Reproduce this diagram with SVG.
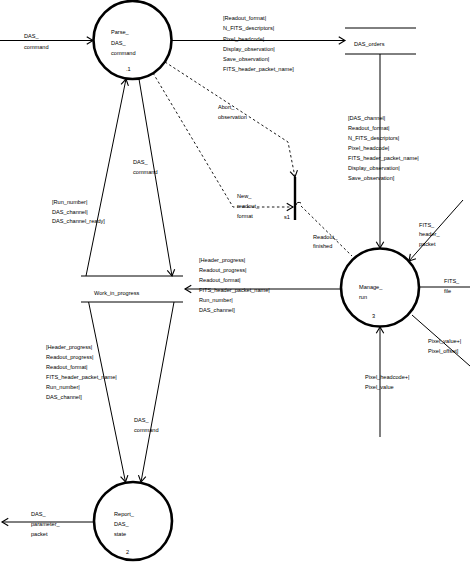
<svg xmlns="http://www.w3.org/2000/svg" width="470" height="562" viewBox="0 0 470 562">
<style>
text{font-family:"Liberation Sans",Arial,sans-serif;font-size:5.6px;fill:#000}
.proc{fill:#fff;stroke:#000;stroke-width:2.6}
.flow{fill:none;stroke:#000;stroke-width:1}
.dash{fill:none;stroke:#000;stroke-width:0.9;stroke-dasharray:2.5,2.5}
.store{stroke:#000;stroke-width:1}
</style>
<defs>
<marker id="ah" markerUnits="userSpaceOnUse" markerWidth="10" markerHeight="10" viewBox="-6 -4 7 8" refX="0" refY="0" orient="auto">
<path d="M-5,-3 L0,0 L-5,3" fill="none" stroke="#000" stroke-width="0.9"/>
</marker>
</defs>
<rect width="470" height="562" fill="#fff"/>
<g id="connectors">
<line class="flow" x1="0" y1="40.5" x2="93" y2="40.5" marker-end="url(#ah)"/>
<line class="flow" x1="172" y1="40.5" x2="345" y2="40.5" marker-end="url(#ah)"/>
<line class="flow" x1="380" y1="54" x2="380" y2="248" marker-end="url(#ah)"/>
<line class="flow" x1="86" y1="276" x2="126" y2="79" marker-end="url(#ah)"/>
<line class="flow" x1="139" y1="79" x2="172" y2="276" marker-end="url(#ah)"/>
<line class="flow" x1="341" y1="289" x2="185" y2="289" marker-end="url(#ah)"/>
<line class="flow" x1="88.6" y1="302" x2="125.5" y2="482" marker-end="url(#ah)"/>
<line class="flow" x1="174" y1="302" x2="141" y2="482" marker-end="url(#ah)"/>
<line class="flow" x1="94" y1="522" x2="2" y2="522" marker-end="url(#ah)"/>
<line class="flow" x1="463" y1="200" x2="409" y2="261" marker-end="url(#ah)"/>
<line class="flow" x1="419" y1="287" x2="470" y2="287"/>
<line class="flow" x1="412" y1="315" x2="470" y2="366"/>
<line class="flow" x1="380" y1="437" x2="380" y2="327" marker-end="url(#ah)"/>
<polyline class="dash" points="165,62 288,142 295,177" marker-end="url(#ah)"/>
<polyline class="dash" points="153,73 233,207 293,207" marker-end="url(#ah)"/>
<path class="flow" d="M296,205 Q297,201 301,203"/>
<line class="dash" x1="301" y1="206" x2="352" y2="256"/>
</g>
<g id="parse">
<circle class="proc" cx="132.5" cy="40" r="39"/>
<text x="111" y="34">Parse_</text>
<text x="111" y="45">DAS_</text>
<text x="111" y="55">command</text>
<text x="126" y="71">.1</text>
</g>
<g id="report">
<circle class="proc" cx="133" cy="521" r="39"/>
<text x="114" y="515.5">Report_</text>
<text x="114" y="526">DAS_</text>
<text x="114" y="536">state</text>
<text x="126" y="554">2</text>
</g>
<g id="manage">
<circle class="proc" cx="380" cy="287.5" r="39"/>
<text x="359" y="288.5">Manage_</text>
<text x="359" y="298.5">run</text>
<text x="372" y="318">3</text>
</g>
<g id="das_orders">
<line class="store" x1="345" y1="28" x2="416" y2="28"/>
<line class="store" x1="345" y1="54" x2="416" y2="54"/>
<text x="354" y="46">DAS_orders</text>
</g>
<g id="work_in_progress">
<line class="store" x1="81" y1="276" x2="183" y2="276"/>
<line class="store" x1="81" y1="302" x2="183" y2="302"/>
<text x="94" y="294.5">Work_in_progress</text>
</g>
<g id="s1">
<line x1="295" y1="177" x2="295" y2="220" stroke="#000" stroke-width="2.4"/>
<text x="284" y="218.5">s1</text>
</g>
<g id="labels">
<text x="24" y="38">DAS_</text>
<text x="24" y="49">command</text>
<text x="223" y="19.5">[Readout_format|</text>
<text x="223" y="30">N_FITS_descriptors|</text>
<text x="223" y="40.5">Pixel_headcode|</text>
<text x="223" y="50.5">Display_observation|</text>
<text x="223" y="60.5">Save_observation|</text>
<text x="223" y="71">FITS_header_packet_name]</text>
<text x="348" y="119.5">[DAS_channel|</text>
<text x="348" y="129.5">Readout_format|</text>
<text x="348" y="139.5">N_FITS_descriptors|</text>
<text x="348" y="149.5">Pixel_headcode|</text>
<text x="348" y="159.5">FITS_header_packet_name|</text>
<text x="348" y="169.5">Display_observation|</text>
<text x="348" y="179.5">Save_observation]</text>
<text x="218" y="108.5">Abort_</text>
<text x="218" y="118.5">observation</text>
<text x="237" y="197.5">New_</text>
<text x="237" y="207.5">readout_</text>
<text x="237" y="217.5">format</text>
<text x="313" y="238.5">Readout_</text>
<text x="313" y="247.5">finished</text>
<text x="419" y="226.5">FITS_</text>
<text x="419" y="236">header_</text>
<text x="419" y="246">packet</text>
<text x="444" y="282.5">FITS_</text>
<text x="444" y="292.5">file</text>
<text x="428" y="342.5">Pixel_value+|</text>
<text x="428" y="352.5">Pixel_offset]</text>
<text x="365" y="378.5">Pixel_headcode+|</text>
<text x="365" y="388.5">Pixel_value</text>
<text x="199" y="261.5">[Header_progress|</text>
<text x="199" y="271.5">Readout_progress|</text>
<text x="199" y="281.5">Readout_format|</text>
<text x="199" y="291.5">FITS_header_packet_name|</text>
<text x="199" y="301.5">Run_number|</text>
<text x="199" y="312">DAS_channel]</text>
<text x="52" y="203.5">[Run_number|</text>
<text x="52" y="213.5">DAS_channel|</text>
<text x="52" y="223">DAS_channel_ready]</text>
<text x="133" y="163.5">DAS_</text>
<text x="133" y="173.5">command</text>
<text x="46" y="348.5">[Header_progress|</text>
<text x="46" y="358.5">Readout_progress|</text>
<text x="46" y="368.5">Readout_format|</text>
<text x="46" y="378.5">FITS_header_packet_name|</text>
<text x="46" y="388.5">Run_number|</text>
<text x="46" y="398.5">DAS_channel]</text>
<text x="134" y="421.5">DAS_</text>
<text x="134" y="431.5">command</text>
<text x="31" y="515.5">DAS_</text>
<text x="31" y="526">parameter_</text>
<text x="31" y="535.5">packet</text>
</g>
</svg>
